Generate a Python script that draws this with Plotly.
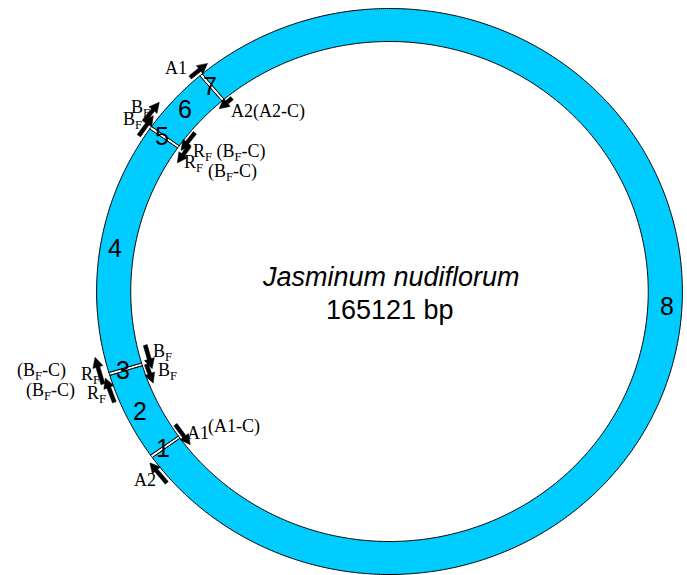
import math
import plotly.graph_objects as go

# Plastome map of Jasminum nudiflorum: eight blocks around the circle
GENOME_NAME = "Jasminum nudiflorum"
GENOME_BP = 165121

segment_labels = ["1", "2", "3", "4", "5", "6", "7", "8"]
segment_bp = [280, 8295, 280, 23706, 280, 6414, 280, 125586]
segment_is_short = [True, False, True, False, True, False, True, False]

# Primer binding sites (bp, start -> end gives the 5'->3' direction)
primer_names = ["A1", "A2", "BF", "BF", "RF", "RF", "RF", "RF", "BF", "BF", "A1", "A2"]
primer_start_bp = [38500, 40240, 31500, 32809, 34900, 33451, 6100, 7995, 10609, 8591, 1450, 162500]
primer_end_bp = [40500, 38500, 33726, 35000, 32534, 31200, 8453, 10500, 7949, 6450, 163942, 164860]
primer_side = ["out", "in", "out", "out", "in", "in", "out", "out", "in", "in", "in", "out"]
primer_lane = [0, 0, 0, 1, 0, 1, 0, 1, 1, 0, 0, 0]

# ---- geometry of the drawing (pixel space) ----
W, H = 687, 575
CX, CY = 389.5, 291.5
SX = 1.035            # horizontal stretch of the ring
R_OUT, R_IN = 283.0, 250.0
R_LABEL = 269.0
START_DEG = 234.07    # angle (clockwise from 12 o'clock) where block 1 begins
RING_COLOR = "#00CCFF"
label_nudge_deg = {"8": -4.0}


def bp_to_deg(bp):
    return START_DEG + bp / GENOME_BP * 360.0


def pt(theta_deg, r):
    t = math.radians(theta_deg)
    return CX + SX * r * math.sin(t), CY - r * math.cos(t)


def sector_path(a0, a1, r0, r1):
    n = max(2, int(abs(a1 - a0) / 0.4) + 2)
    outer = [pt(a0 + (a1 - a0) * i / (n - 1), r1) for i in range(n)]
    inner = [pt(a1 - (a1 - a0) * i / (n - 1), r0) for i in range(n)]
    pts = outer + inner
    return "M " + " L ".join(f"{x:.2f},{y:.2f}" for x, y in pts) + " Z"


def arrow_path(a0, a1, r, shaft=4.0, head_len=10.0, head_half=5.2):
    tx, ty = pt(a0, r)
    hx, hy = pt(a1, r)
    dx, dy = hx - tx, hy - ty
    L = math.hypot(dx, dy)
    ux, uy = dx / L, dy / L
    nx, ny = -uy, ux
    bx, by = hx - ux * head_len, hy - uy * head_len
    s = shaft / 2
    pts = [
        (tx + nx * s, ty + ny * s),
        (bx + nx * s, by + ny * s),
        (bx + nx * head_half, by + ny * head_half),
        (hx, hy),
        (bx - nx * head_half, by - ny * head_half),
        (bx - nx * s, by - ny * s),
        (tx - nx * s, ty - ny * s),
    ]
    return "M " + " L ".join(f"{x:.2f},{y:.2f}" for x, y in pts) + " Z"


shapes = []
annotations = []

# ring blocks
pos = 0
for lab, length, short in zip(segment_labels, segment_bp, segment_is_short):
    a0 = bp_to_deg(pos)
    a1 = bp_to_deg(pos + length)
    shapes.append(dict(
        type="path", xref="x", yref="y", path=sector_path(a0, a1, R_IN, R_OUT),
        fillcolor="white" if short else RING_COLOR,
        line=dict(color="black", width=1), layer="below",
    ))
    mid = (a0 + a1) / 2 + label_nudge_deg.get(lab, 0.0)
    lx, ly = pt(mid, R_LABEL)
    annotations.append(dict(
        x=lx, y=ly, xref="x", yref="y", text=lab, showarrow=False,
        xanchor="center", yanchor="middle",
        font=dict(family="Liberation Sans", size=25, color="black"),
    ))
    pos += length

# primer arrows
for name, s, e, side, lane in zip(primer_names, primer_start_bp, primer_end_bp,
                                  primer_side, primer_lane):
    if side == "out":
        r = R_OUT + 5 + 4 * lane
    else:
        r = R_IN - 4 - 4 * lane
    shapes.append(dict(
        type="path", xref="x", yref="y", path=arrow_path(bp_to_deg(s), bp_to_deg(e), r),
        fillcolor="black", line=dict(color="black", width=0.5), layer="above",
    ))

# primer labels
F = "<sub>F</sub>"
primer_labels = [
    ("A1", 189, 68, "right"),
    ("A2(A2-C)", 229, 111, "left"),
    ("B" + F, 129, 108, "left"),
    ("B" + F, 121, 120, "left"),
    ("R" + F + " (B" + F + "-C)", 191, 152, "left"),
    ("R" + F, 182, 163, "left"),
    ("(B" + F + "-C)", 206, 172, "left"),
    ("(B" + F + "-C)", 68, 371, "right"),
    ("R" + F, 79, 375, "left"),
    ("(B" + F + "-C)", 77, 391, "right"),
    ("R" + F, 85, 394, "left"),
    ("B" + F, 151, 352, "left"),
    ("B" + F, 156, 371, "left"),
    ("A1", 185, 433, "left"),
    ("(A1-C)", 206, 426, "left"),
    ("A2", 145, 480, "center"),
]
for text, x, y, xa in primer_labels:
    annotations.append(dict(
        x=x, y=y, xref="x", yref="y", text=text, showarrow=False,
        xanchor=xa, yanchor="middle",
        font=dict(family="Liberation Serif", size=18, color="black"),
    ))

# title in the middle of the map
annotations.append(dict(
    x=391, y=277, xref="x", yref="y", text="<i>" + GENOME_NAME + "</i>",
    showarrow=False, xanchor="center", yanchor="middle",
    font=dict(family="Liberation Sans", size=27, color="black"),
))
annotations.append(dict(
    x=390, y=310, xref="x", yref="y", text=f"{GENOME_BP} bp",
    showarrow=False, xanchor="center", yanchor="middle",
    font=dict(family="Liberation Sans", size=27, color="black"),
))

fig = go.Figure(go.Scatter(x=[0, W], y=[0, H], mode="markers",
                           marker=dict(opacity=0), hoverinfo="skip"))
fig.update_layout(
    width=W, height=H, margin=dict(l=0, r=0, t=0, b=0),
    paper_bgcolor="white", plot_bgcolor="white", showlegend=False,
    xaxis=dict(range=[0, W], visible=False, fixedrange=True),
    yaxis=dict(range=[H, 0], visible=False, fixedrange=True),
    shapes=shapes, annotations=annotations,
)
fig.write_html("out.html")
